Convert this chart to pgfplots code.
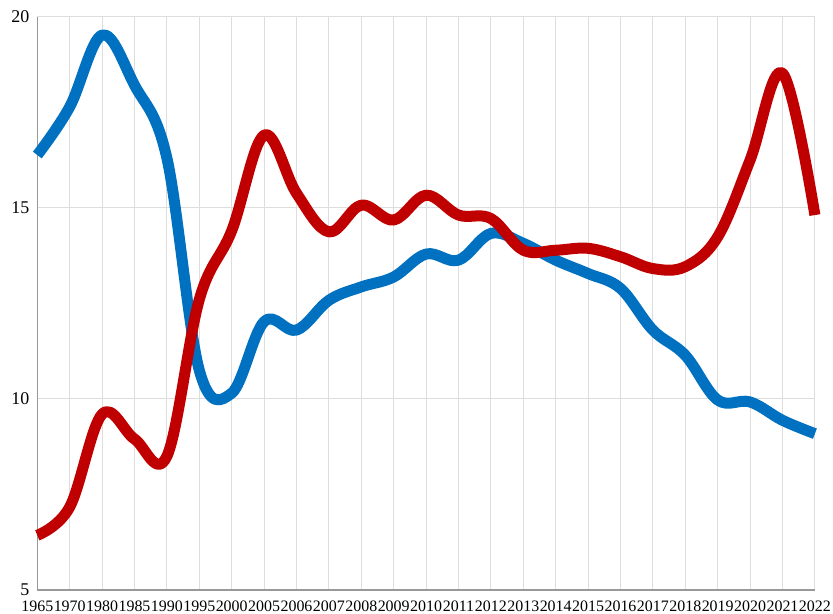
\documentclass[border=0pt]{standalone}
\usepackage{fontspec}
\setmainfont{Liberation Serif}
\usepackage{pgfplots}
\usepackage{pgfplotstable}
\pgfplotsset{compat=1.18}
\definecolor{cblue}{HTML}{0070C0}
\definecolor{cred}{HTML}{C00000}
\definecolor{gridc}{HTML}{DDDDDD}
\definecolor{axisc}{HTML}{999999}
\pgfplotstableread{
idx blue red
0 16.38 6.43
1 17.64 7.17
2 19.52 9.60
3 18.21 8.95
4 16.30 8.50
5 10.75 12.60
6 10.15 14.40
7 12.02 16.90
8 11.80 15.38
9 12.58 14.37
10 12.93 15.07
11 13.19 14.68
12 13.79 15.33
13 13.63 14.81
14 14.33 14.72
15 14.07 13.89
16 13.63 13.89
17 13.28 13.94
18 12.89 13.72
19 11.80 13.41
20 11.14 13.46
21 9.97 14.24
22 9.92 16.25
23 9.44 18.52
24 9.09 14.81
}\datatable
\begin{document}
\begin{tikzpicture}
\path[use as bounding box] (0bp,0bp) rectangle (833bp,614bp);
\begin{axis}[
  at={(37.3bp,24bp)}, anchor=south west,
  scale only axis, width=777.6bp, height=573.3bp,
  xmin=0, xmax=24, ymin=5, ymax=20,
  xtick={0,...,24},
  xticklabels={1965,1970,1980,1985,1990,1995,2000,2005,2006,2007,2008,2009,2010,2011,2012,2013,2014,2015,2016,2017,2018,2019,2020,2021,2022},
  ytick={5,10,15,20},
  axis lines*=left,
  axis line style={draw=axisc, line width=1.5bp},
  grid=major, major grid style={draw=gridc, line width=1bp},
  major tick length=0pt,
  clip=false,
  /pgf/number format/assume math mode=true,
  xticklabel style={font=\fontsize{16}{16}\selectfont, anchor=base, inner sep=0pt, yshift=-21.5bp},
  yticklabel style={font=\fontsize{18}{18}\selectfont, anchor=east, inner sep=0pt, xshift=-7.8bp},
]
\addplot[cblue, line width=11bp, smooth, tension=0.6, line join=round, line cap=butt] table[x=idx,y=blue]{\datatable};
\addplot[cred, line width=11bp, smooth, tension=0.6, line join=round, line cap=butt] table[x=idx,y=red]{\datatable};
\end{axis}
\end{tikzpicture}
\end{document}
